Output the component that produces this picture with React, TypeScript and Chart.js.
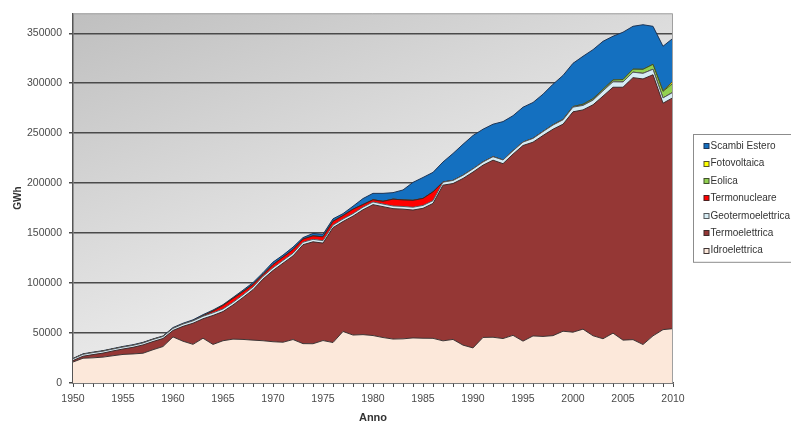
import React, { useEffect, useRef } from 'react';
import { Chart, registerables } from 'chart.js';

Chart.register(...registerables);

const FONT = "'Liberation Sans', Arial, Helvetica, sans-serif";

const years = [
  '1950', '1951', '1952', '1953', '1954', '1955', '1956', '1957', '1958', '1959',
  '1960', '1961', '1962', '1963', '1964', '1965', '1966', '1967', '1968', '1969',
  '1970', '1971', '1972', '1973', '1974', '1975', '1976', '1977', '1978', '1979',
  '1980', '1981', '1982', '1983', '1984', '1985', '1986', '1987', '1988', '1989',
  '1990', '1991', '1992', '1993', '1994', '1995', '1996', '1997', '1998', '1999',
  '2000', '2001', '2002', '2003', '2004', '2005', '2006', '2007', '2008', '2009',
  '2010',
];

const idroelettrica = [
  21000, 24800, 25200, 25900, 27300, 28600, 29100, 29800, 33300, 36500,
  46100, 41800, 38700, 44800, 38600, 42300, 43900, 43600, 42900, 42300,
  41300, 40800, 43500, 39400, 39300, 42500, 40500, 51600, 48000, 48400,
  47500, 45500, 44000, 44200, 45100, 44800, 44700, 42200, 43600, 37900,
  35100, 45600, 45800, 44500, 47700, 41900, 47100, 46600, 47400, 51800,
  50900, 53900, 47300, 44300, 49900, 42900, 43400, 38500, 47200, 53400,
  54400,
];

const termoelettrica = [
  1500, 2000, 3200, 4000, 4800, 5400, 6600, 8300, 8200, 8000,
  6500, 14900, 21100, 19500, 29000, 29200, 34200, 42000, 50500, 61700,
  71300, 79100, 83700, 99000, 102000, 97500, 115000, 110000, 119000, 125000,
  131000, 131000, 130500, 129800, 128000, 130000, 135000, 155800, 156000, 166800,
  176000, 172400, 177200, 175000, 181300, 195800, 193900, 201100, 206600, 207200,
  220500, 219400, 231100, 242800, 246100, 253100, 262200, 265800, 261300, 226600,
  231200,
];

const geotermoelettrica = [
  1800, 1900, 2000, 2000, 1900, 2000, 2000, 2000, 2100, 2100,
  2100, 2300, 2400, 2500, 2600, 2600, 2600, 2600, 2700, 2700,
  2700, 2700, 2700, 2500, 2500, 2500, 2500, 2500, 2500, 2600,
  2700, 2600, 2700, 2700, 2800, 2900, 2800, 3000, 3100, 3200,
  3200, 3200, 3500, 3700, 3400, 3400, 3800, 3900, 4200, 4400,
  4700, 4500, 4700, 5300, 5400, 5300, 5500, 5600, 5500, 5300,
  5400,
];

const termonucleare = [
  0, 0, 0, 0, 0, 0, 0, 0, 0, 0,
  0, 0, 0, 400, 1800, 3500, 3900, 3200, 2600, 1700,
  3200, 3400, 3600, 3100, 3400, 3800, 3800, 3400, 4400, 2600,
  2200, 2700, 6800, 6500, 6900, 7000, 8800, 200, 0, 0,
  0, 0, 0, 0, 0, 0, 0, 0, 0, 0,
  0, 0, 0, 0, 0, 0, 0, 0, 0, 0,
  0,
];

const eolica = [
  0, 0, 0, 0, 0, 0, 0, 0, 0, 0,
  0, 0, 0, 0, 0, 0, 0, 0, 0, 0,
  0, 0, 0, 0, 0, 0, 0, 0, 0, 0,
  0, 0, 0, 0, 0, 0, 0, 0, 0, 0,
  0, 0, 0, 0, 0, 10, 30, 120, 230, 400,
  560, 1180, 1400, 1460, 1850, 2340, 2970, 4030, 4860, 6540,
  9130,
];

const fotovoltaica = [
  0, 0, 0, 0, 0, 0, 0, 0, 0, 0,
  0, 0, 0, 0, 0, 0, 0, 0, 0, 0,
  0, 0, 0, 0, 0, 0, 0, 0, 0, 0,
  0, 0, 0, 0, 0, 0, 0, 0, 0, 0,
  0, 0, 0, 0, 0, 0, 0, 0, 0, 0,
  0, 0, 0, 0, 0, 30, 35, 40, 190, 680,
  1910,
];

const scambiEstero = [
  300, 500, 500, 500, 500, 600, 600, 600, 500, 500,
  800, 800, 1000, 1200, 1000, 800, 1000, 1500, 1800, 2000,
  2500, 2000, 2500, 1500, 2500, 2500, 2500, 2000, 3000, 6000,
  6400, 8000, 6500, 10000, 18000, 21000, 19500, 20000, 27000, 31000,
  33400, 32800, 32500, 38400, 35100, 34900, 35900, 37300, 40600, 44000,
  43300, 48000, 49100, 48100, 43800, 47400, 42900, 44600, 37900, 44500,
  43000,
];

const yTickValues = [0, 50000, 100000, 150000, 200000, 250000, 300000, 350000];
const yMax = 370000;

// bottom-to-top stacking order
const series = [
  { label: 'Idroelettrica', data: idroelettrica, color: '#FCE8DA', edge: '#3d3333' },
  { label: 'Termoelettrica', data: termoelettrica, color: '#953735', edge: '#3d2a2a' },
  { label: 'Geotermoelettrica', data: geotermoelettrica, color: '#D6ECF4', edge: '#555a5e' },
  { label: 'Termonucleare', data: termonucleare, color: '#FF0000', edge: '#4a2020' },
  { label: 'Eolica', data: eolica, color: '#92D050', edge: '#3f4f2a' },
  { label: 'Fotovoltaica', data: fotovoltaica, color: '#FFFF00', edge: '#55552a' },
  { label: 'Scambi Estero', data: scambiEstero, color: '#1470C0', edge: '#1d3556' },
];

const plotBackground = {
  id: 'plotBackground',
  beforeDraw(chart: any) {
    const { ctx, chartArea } = chart;
    if (!chartArea) return;
    const { left, top, right, bottom } = chartArea;
    ctx.save();
    const g = ctx.createLinearGradient(left, top, left + 150, bottom);
    g.addColorStop(0, '#bfbfbf');
    g.addColorStop(1, '#f1f1f1');
    ctx.fillStyle = g;
    ctx.fillRect(left, top, right - left, bottom - top);
    ctx.restore();
  },
  afterDatasetsDraw(chart: any) {
    const { ctx, chartArea } = chart;
    const { left, top, right, bottom } = chartArea;
    ctx.save();
    ctx.strokeStyle = '#a0a0a0';
    ctx.lineWidth = 1;
    ctx.beginPath();
    ctx.moveTo(left, top + 0.5);
    ctx.lineTo(right - 0.5, top + 0.5);
    ctx.lineTo(right - 0.5, bottom);
    ctx.stroke();
    ctx.restore();
  },
};

const boxedLegend = {
  id: 'boxedLegend',
  afterDraw(chart: any) {
    const { ctx, chartArea } = chart;
    const items = chart.data.datasets.slice().reverse();
    const rowH = 17.4;
    const boxLeft = Math.round(chartArea.right) + 20.5;
    const boxH = items.length * rowH + 6;
    const midY = (chartArea.top + chartArea.bottom) / 2;
    const boxTop = Math.round(midY - boxH / 2) + 0.5;
    ctx.save();
    ctx.strokeStyle = '#8c8c8c';
    ctx.lineWidth = 1;
    ctx.strokeRect(boxLeft, boxTop, 120, boxH);
    ctx.font = `10px ${FONT}`;
    ctx.textBaseline = 'middle';
    ctx.textAlign = 'left';
    items.forEach((d: any, i: number) => {
      const cy = boxTop + 3 + rowH * (i + 0.5);
      const mx = boxLeft + 10.5;
      ctx.fillStyle = d.backgroundColor;
      ctx.fillRect(mx, Math.round(cy) - 2.5, 5, 5);
      ctx.strokeStyle = d.borderColor;
      ctx.strokeRect(mx, Math.round(cy) - 2.5, 5, 5);
      ctx.fillStyle = '#333333';
      ctx.fillText(d.label, boxLeft + 17, cy);
    });
    ctx.restore();
  },
};

export default function App() {
  const canvasRef = useRef<HTMLCanvasElement | null>(null);

  useEffect(() => {
    const canvas = canvasRef.current;
    if (!canvas) return;
    const chart = new Chart(canvas, {
      type: 'line',
      data: {
        labels: years,
        datasets: series.map((s, i) => ({
          label: s.label,
          data: s.data,
          backgroundColor: s.color,
          borderColor: s.edge,
          borderWidth: 1,
          pointRadius: 0,
          pointHoverRadius: 0,
          tension: 0,
          fill: i === 0 ? 'origin' : '-1',
        })),
      },
      options: {
        responsive: false,
        animation: false,
        events: [],
        layout: { padding: { left: 8, right: 118, top: 10, bottom: 0 } },
        plugins: {
          legend: { display: false },
          tooltip: { enabled: false },
        },
        scales: {
          x: {
            type: 'category',
            ticks: {
              autoSkip: false,
              maxRotation: 0,
              minRotation: 0,
              color: '#4a4a4a',
              font: { family: FONT, size: 10.5 },
              padding: 6,
              callback: (_v: any, i: number) => (Number(years[i]) % 5 === 0 ? years[i] : ''),
            },
            grid: {
              drawOnChartArea: false,
              drawTicks: true,
              tickLength: 4,
              color: '#4a4a4a',
              lineWidth: 1,
            },
            border: { display: true, color: '#555555', width: 1.5 },
            title: {
              display: true,
              text: 'Anno',
              color: '#333333',
              font: { family: FONT, size: 11, weight: 'bold' },
              padding: { top: 0, bottom: 1 },
            },
            afterFit: (s: any) => {
              s.height = 43;
            },
          },
          y: {
            stacked: true,
            min: 0,
            max: yMax,
            afterBuildTicks: (s: any) => {
              s.ticks = yTickValues.map((v) => ({ value: v }));
            },
            ticks: {
              color: '#4a4a4a',
              font: { family: FONT, size: 10.5 },
              padding: 7,
              callback: (v: any) => String(v),
            },
            grid: {
              color: '#4a4a4a',
              lineWidth: 1.5,
              tickLength: 4,
              drawTicks: true,
            },
            border: { display: true, color: '#555555', width: 1.5 },
            title: {
              display: true,
              text: 'GWh',
              color: '#333333',
              font: { family: FONT, size: 10, weight: 'bold' },
              padding: { top: 4, bottom: 0 },
            },
            afterFit: (s: any) => {
              s.width = 65;
            },
          },
        },
      },
      plugins: [plotBackground, boxedLegend],
    } as any);
    return () => chart.destroy();
  }, []);

  return (
    <div style={{ position: 'absolute', left: 0, top: 0, width: 791, height: 426, background: '#ffffff' }}>
      <canvas ref={canvasRef} width={791} height={426} style={{ display: 'block' }} />
    </div>
  );
}
